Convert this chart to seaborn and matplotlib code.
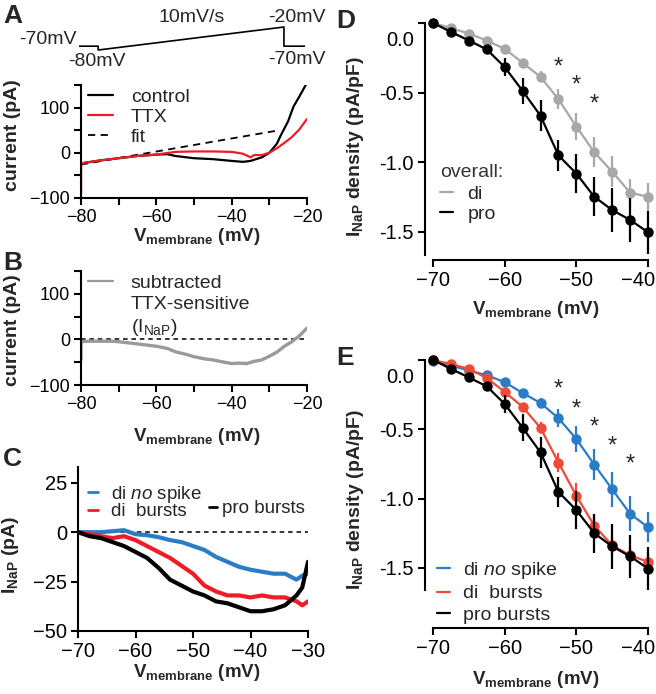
import numpy as np
import pandas as pd
import seaborn as sns
import matplotlib.pyplot as plt
from matplotlib.lines import Line2D
from matplotlib.transforms import ScaledTranslation

W, H = 656, 694

# ---- A: ramp protocol (time in s, command voltage in mV)
prot_t = [0, 0.62, 0.62, 6.62, 6.62, 7.3]
prot_v = [-70, -70, -80, -20, -70, -70]

# ---- A: raw ramp currents
ctrl_v = [-80, -80, -79, -75, -70, -65, -60, -57, -55, -50, -45, -40, -37, -35, -32, -30, -28, -27, -25, -23.6, -22, -20]
ctrl_i = [-90, -25, -22, -17, -12, -7, -4, -3, -7, -12, -14, -18, -20, -18, -10, 0, 20, 38, 70, 102, 125, 155]
ttx_v = [-80, -80, -79, -75, -70, -65, -60, -55, -50, -45, -40, -37, -35, -34, -32, -30, -28, -26, -24, -22, -20]
ttx_i = [-90, -25, -22, -17, -12, -7, -4, 2, 3, 3, 2, -2, -10, -5, -5, 0, 10, 22, 35, 52, 75]
fit_v = [-80, -28]
fit_i = [-26, 49]

# ---- B: subtracted TTX-sensitive current
sub_v = [-80, -80, -78, -72, -70, -65, -60, -57, -55, -52, -50, -47, -45, -42, -40, -38, -36, -34, -32, -30, -28, -26, -24, -22, -20]
sub_i = [-45, -5, -4, -4, -5, -10, -15, -20, -27, -33, -38, -43, -45, -50, -53, -52, -53, -48, -45, -37, -28, -15, -5, 8, 25]

# ---- C: mean I_NaP traces
c_v = [-70, -68, -66, -64, -62, -60, -58, -56, -54, -52, -50, -48, -46, -44, -42, -40, -38, -36, -34, -32, -31, -30]
c_nospike = [0, 0, 0, 0.5, 1, -1, -1.5, -2.5, -4, -5, -7, -9, -12.5, -15, -17.5, -19, -20, -21, -21, -24, -22, -21]
c_diburst = [0, -1, -2, -3, -2, -4, -7, -10, -13, -17, -21, -27, -30, -32, -32, -33, -32, -33, -33, -35, -37, -35]
c_proburst = [0, -2, -3, -5, -7, -10, -13, -18, -24, -27, -30, -32, -35, -36, -38, -40, -40, -39, -37, -32, -28, -15]

# ---- D / E: I_NaP density (pA/pF), mean and SEM
steps = [-70, -67.5, -65, -62.5, -60, -57.5, -55, -52.5, -50, -47.5, -45, -42.5, -40]
di_all = [0, -0.036, -0.076, -0.126, -0.186, -0.286, -0.388, -0.548, -0.745, -0.929, -1.07, -1.22, -1.25]
di_all_sem = [0, 0.01, 0.01, 0.015, 0.02, 0.025, 0.04, 0.07, 0.1, 0.11, 0.11, 0.1, 0.1]
pro_all = [0, -0.064, -0.126, -0.19, -0.317, -0.488, -0.667, -0.952, -1.083, -1.25, -1.345, -1.417, -1.505]
pro_all_sem = [0, 0.01, 0.015, 0.03, 0.065, 0.095, 0.11, 0.11, 0.14, 0.14, 0.16, 0.155, 0.155]
di_nospike = [-0.01, -0.04, -0.076, -0.11, -0.16, -0.238, -0.31, -0.42, -0.57, -0.755, -0.933, -1.11, -1.207]
di_nospike_sem = [0, 0.01, 0.01, 0.015, 0.02, 0.025, 0.035, 0.065, 0.095, 0.11, 0.125, 0.125, 0.11]
di_burst = [0, -0.03, -0.064, -0.13, -0.23, -0.338, -0.49, -0.74, -0.98, -1.195, -1.338, -1.41, -1.457]
di_burst_sem = [0, 0.01, 0.01, 0.015, 0.02, 0.03, 0.04, 0.07, 0.095, 0.08, 0.07, 0.07, 0.07]
stars_d_v = [-52.5, -50, -47.5]
stars_d_y = [-0.32, -0.45, -0.59]
stars_e_v = [-52.5, -50, -47.5, -45, -42.5]
stars_e_y = [-0.214, -0.357, -0.486, -0.624, -0.755]

BLUE = "#2a7cc7"
RED = "#ee1c24"
RED_E = "#ef4a36"
GRAY_B = "#9a9a9a"
GRAY_D = "#a8a8a8"

sns.set_style("ticks")
plt.rcParams['font.family'] = ['Liberation Sans', 'DejaVu Sans']
plt.rcParams.update({
    'mathtext.fontset': 'custom',
    'mathtext.rm': 'Liberation Sans',
    'mathtext.it': 'Liberation Sans:italic',
    'mathtext.bf': 'Liberation Sans:bold',
    'axes.linewidth': 1.5, 'axes.edgecolor': 'black',
    'xtick.color': 'black', 'ytick.color': 'black',
    'xtick.major.width': 1.5, 'ytick.major.width': 1.5,
    'xtick.minor.width': 1.5, 'ytick.minor.width': 1.5,
    'xtick.major.size': 5, 'ytick.major.size': 5,
    'xtick.minor.size': 5, 'ytick.minor.size': 5,
    'xtick.labelsize': 13, 'ytick.labelsize': 13,
    'xtick.major.pad': 3, 'ytick.major.pad': 3,
})

fig = plt.figure(figsize=(W / 100, H / 100), dpi=100)


def make_ax(r):
    l, t, rr, b = r
    return fig.add_axes([l / W, 1 - b / H, (rr - l) / W, (b - t) / H])


def frac(r, px, py):
    l, t, rr, b = r
    return (px - l) / (rr - l), (b - py) / (b - t)


def ftext(px, py, s, **kw):
    fig.text(px / W, 1 - py / H, s, **kw)


VLAB = r"$\mathbf{V_{membrane}}$ (mV)"
XL_KW = dict(fontsize=13.5, fontweight='bold')
YL_KW = dict(fontsize=14, fontweight='bold')
LEG_KW = dict(frameon=False, borderpad=0, borderaxespad=0)


def place_labels(ax, r, xl_c, xl_top, yl_right, yl_c):
    ax.xaxis.set_label_coords(*frac(r, xl_c, xl_top))
    ax.yaxis.set_label_coords(*frac(r, yl_right, yl_c))


# ================= A =================
rp = (79, 20, 305, 55)
axp = make_ax(rp)
sns.lineplot(x=prot_t, y=prot_v, estimator=None, sort=False, color='black', lw=1.2, ax=axp)
axp.set_xlim(0, 7.3)
axp.set_ylim(-93, -1.7)
axp.axis('off')
PT = dict(fontsize=14)
ftext(77, 40, "-70mV", ha='right', va='center', **PT)
ftext(97, 62, "-80mV", ha='center', va='center', **PT)
ftext(192, 17, "10mV/s", ha='center', va='center', **PT)
ftext(297, 17, "-20mV", ha='center', va='center', **PT)
ftext(297, 59, "-70mV", ha='center', va='center', **PT)

ra = (81, 85, 307, 198)
axa = make_ax(ra)
sns.lineplot(x=fit_v, y=fit_i, color='black', lw=1.3, ls=(0, (4, 3)), ax=axa, label='fit')
sns.lineplot(x=ctrl_v, y=ctrl_i, estimator=None, sort=False, color='black', lw=1.6, ax=axa, label='control')
sns.lineplot(x=ttx_v, y=ttx_i, estimator=None, sort=False, color=RED, lw=1.6, ax=axa, label='TTX')
axa.set_xlim(-80, -20)
axa.set_ylim(-100, 150)
axa.set_xticks([-80, -60, -40, -20])
axa.set_xticks([-70, -50, -30], minor=True)
axa.set_yticks([-100, 0, 100])
axa.set_yticks([-50, 50, 150], minor=True)
axa.set_xlabel(VLAB, **XL_KW)
axa.set_ylabel("current (pA)", **YL_KW)
place_labels(axa, ra, 197, 226, 21, 135)
h, l = axa.get_legend_handles_labels()
order = [1, 2, 0]
axa.legend([h[i] for i in order], [l[i] for i in order], loc='upper left',
           bbox_to_anchor=frac(ra, 88, 88), handlelength=1.3, handletextpad=0.9,
           labelspacing=0.12, fontsize=14, **LEG_KW)

# ================= B =================
rb = (81, 271, 307, 385)
axb = make_ax(rb)
axb.axhline(0, color='black', lw=1.1, ls=(0, (3, 2.5)))
sns.lineplot(x=sub_v, y=sub_i, estimator=None, sort=False, color=GRAY_B, lw=2.4, ax=axb)
axb.set_xlim(-80, -20)
axb.set_ylim(-100, 150)
axb.set_xticks([-80, -60, -40, -20])
axb.set_xticks([-70, -50, -30], minor=True)
axb.set_yticks([-100, 0, 100])
axb.set_yticks([-50, 50, 150], minor=True)
axb.set_xlabel(VLAB, **XL_KW)
axb.set_ylabel("current (pA)", **YL_KW)
place_labels(axb, rb, 197, 426, 21, 330)
blank = Line2D([], [], color='none')
axb.legend([Line2D([], [], color=GRAY_B, lw=1.6), blank, blank],
           ["subtracted", "TTX-sensitive", r"(I$_{\mathrm{NaP}}$)"],
           loc='upper left', bbox_to_anchor=frac(rb, 88, 274), handlelength=1.3,
           handletextpad=0.9, labelspacing=0.2, fontsize=14, **LEG_KW)

# ================= C =================
rc = (78, 467, 308, 631)
axc = make_ax(rc)
axc.axhline(0, color='black', lw=1.1, ls=(0, (3, 2.5)))
sns.lineplot(x=c_v, y=c_nospike, color=BLUE, lw=3, ax=axc)
sns.lineplot(x=c_v, y=c_diburst, color=RED, lw=3, ax=axc)
sns.lineplot(x=c_v, y=c_proburst, color='black', lw=3, ax=axc)
axc.set_xlim(-70, -30)
axc.set_ylim(-50, 33)
axc.set_xticks([-70, -60, -50, -40, -30])
axc.set_yticks([-50, -25, 0, 25])
axc.tick_params(labelsize=14.5)
axc.set_xlabel(VLAB, **XL_KW)
axc.set_ylabel(r"$\mathbf{I_{NaP}}$ (pA)", fontsize=14, fontweight='bold')
place_labels(axc, rc, 197, 662, 21, 555)
leg1 = axc.legend([Line2D([], [], color=BLUE, lw=2), Line2D([], [], color=RED, lw=2)],
                  [r"di $\it{no}$ spike", "di  bursts"], loc='upper left',
                  bbox_to_anchor=frac(rc, 88, 484), handlelength=0.55,
                  handletextpad=0.7, labelspacing=-0.1, fontsize=13.5, **LEG_KW)
axc.add_artist(leg1)
axc.legend([Line2D([], [], color='black', lw=2)], ["pro bursts"], loc='upper left',
           bbox_to_anchor=frac(rc, 209, 500), handlelength=0.4,
           handletextpad=0.3, fontsize=13.5, **LEG_KW)


def density_axes(r, ylo, outward):
    ax = make_ax(r)
    ax.set_xlim(-71.12, -39.72)
    ax.set_ylim(ylo, 0)
    ax.spines['bottom'].set_position(('outward', outward))
    ax.set_xticks([-70, -60, -50, -40])
    ax.set_yticks([0, -0.5, -1.0, -1.5])
    ax.set_yticklabels(["0.0", "-0.5", "-1.0", "-1.5"])
    ax.tick_params(labelsize=14.5)
    ax.set_xlabel(VLAB, **XL_KW)
    ax.set_ylabel(r"$\mathbf{I_{NaP}}$ density (pA/pF)", **YL_KW)
    return ax


def group(ax, y, sem, color, label):
    ax.errorbar(steps, y, yerr=sem, fmt='none', ecolor=color, elinewidth=1.6,
                capsize=0, clip_on=False)
    sns.lineplot(x=steps, y=y, color=color, lw=1.6, marker='o', markersize=7.5,
                 markeredgewidth=0, clip_on=False, ax=ax, label=label)


# ================= D =================
rd = (425, 23, 650, 255)
axd = density_axes(rd, -1.669, 3.6)
group(axd, di_all, di_all_sem, GRAY_D, "di")
group(axd, pro_all, pro_all_sem, 'black', "pro")
for sv, sy in zip(stars_d_v, stars_d_y):
    axd.text(sv, sy, "*", ha='center', va='center', fontsize=17)
place_labels(axd, rd, 536, 299, 366, 147)
ld = axd.get_legend_handles_labels()[1]
hd = [Line2D([], [], color=GRAY_D, lw=1.6), Line2D([], [], color='black', lw=1.6)]
legd = axd.legend(hd, ld, title="overall:", loc='upper left',
                  bbox_to_anchor=frac(rd, 440, 164), handlelength=0.65,
                  handletextpad=0.75, labelspacing=0.13, title_fontsize=14,
                  alignment='left', fontsize=14, **LEG_KW)
legd.get_title().set_color('#333333')
legd._legend_box.sep = 3

# ================= E =================
re_ = (425, 360, 650, 590)
axe = density_axes(re_, -1.66, 27.4)
group(axe, di_nospike, di_nospike_sem, BLUE, r"di $\it{no}$ spike")
group(axe, di_burst, di_burst_sem, RED_E, "di  bursts")
group(axe, pro_all, pro_all_sem, 'black', "pro bursts")
for sv, sy in zip(stars_e_v, stars_e_y):
    axe.text(sv, sy, "*", ha='center', va='center', fontsize=17)
place_labels(axe, re_, 536, 669, 366, 500)
he = [Line2D([], [], color=c, lw=1.6) for c in (BLUE, RED_E, 'black')]
axe.legend(he, axe.get_legend_handles_labels()[1], loc='upper left',
           bbox_to_anchor=frac(re_, 437, 560), handlelength=0.65,
           handletextpad=0.7, labelspacing=0.2, fontsize=14, **LEG_KW)

sns.despine(fig=fig)
for ax in (axd, axe):
    ax.spines['bottom'].set_bounds(-70, -40)

# panel letters
for letter, px, py in [("A", 3, 4), ("B", 3, 251), ("C", 3, 447), ("D", 336, 9), ("E", 336, 346)]:
    ftext(px, py, letter, ha='left', va='top', fontsize=19, fontweight='bold')

# "0.0" sits lower than its tick, "-40" is pulled in from the edge (D and E)
fig.canvas.draw()
for ax in (axd, axe):
    for tk in ax.yaxis.get_major_ticks():
        if abs(tk.get_loc()) < 1e-9:
            lab = tk.label1
            lab.set_transform(lab.get_transform() + ScaledTranslation(0, -0.15, fig.dpi_scale_trans))
    for tk in ax.xaxis.get_major_ticks():
        if abs(tk.get_loc() + 40) < 1e-9:
            lab = tk.label1
            lab.set_transform(lab.get_transform() + ScaledTranslation(-0.1, 0, fig.dpi_scale_trans))

fig.savefig("out.png", dpi=100)
